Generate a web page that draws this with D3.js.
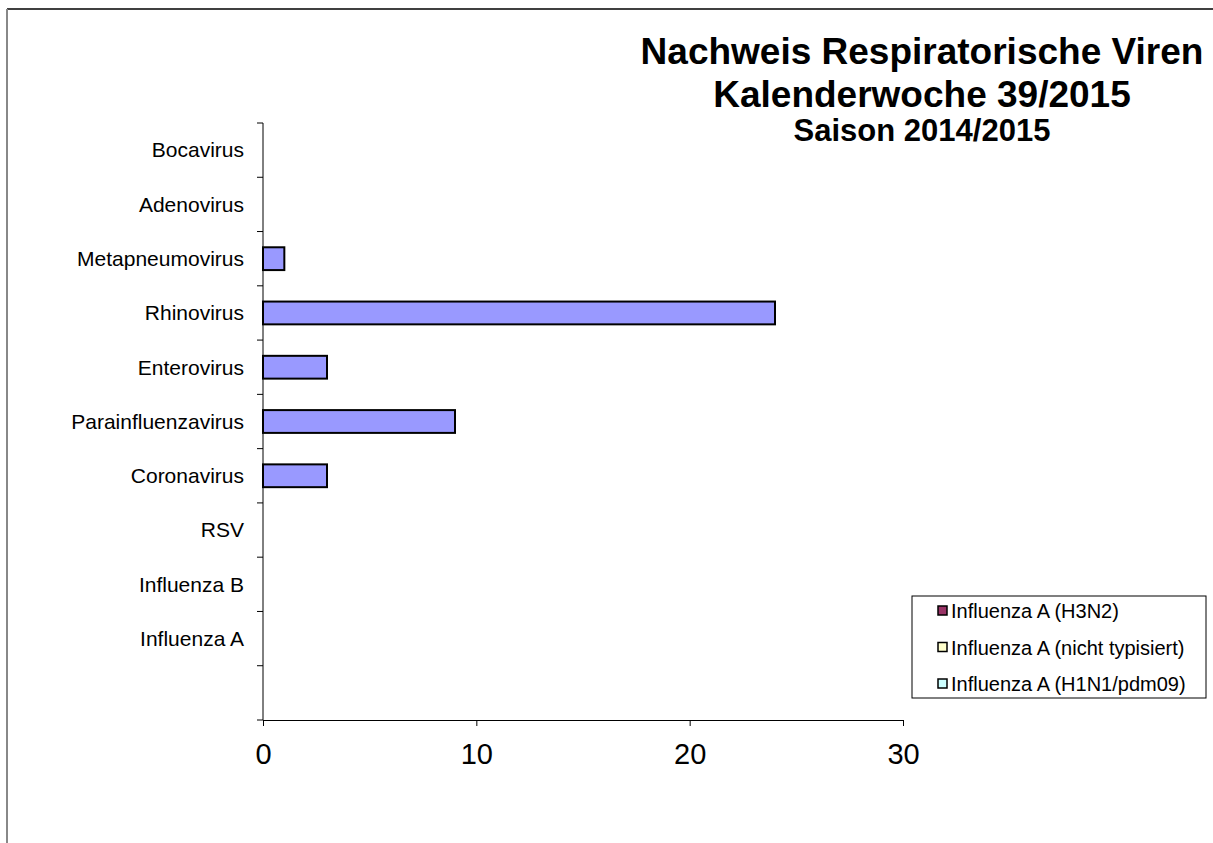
<!DOCTYPE html>
<html>
<head>
<meta charset="utf-8">
<script src="https://cdn.jsdelivr.net/npm/d3@7"></script>
<style>
  body { margin: 0; background: #fff; }
  svg { display: block; font-family: Arial, "Liberation Sans", sans-serif; }
</style>
</head>
<body>
<svg id="chart" width="1213" height="843"></svg>
<script>
// categories top to bottom, last one is the empty slot under Influenza A
const categories = ["Bocavirus", "Adenovirus", "Metapneumovirus", "Rhinovirus", "Enterovirus",
  "Parainfluenzavirus", "Coronavirus", "RSV", "Influenza B", "Influenza A", ""];
const counts = [0, 0, 1, 24, 3, 9, 3, 0, 0, 0, 0];
const xTicks = [0, 10, 20, 30];
const legendLabels = ["Influenza A (H3N2)", "Influenza A (nicht typisiert)", "Influenza A (H1N1/pdm09)"];
const legendColors = ["#993366", "#ffffcc", "#ccffff"];
const titleLines = ["Nachweis Respiratorische Viren", "Kalenderwoche 39/2015", "Saison 2014/2015"];

const svg = d3.select("#chart");

// outer frame of the chart area
svg.append("line").attr("x1", 7).attr("x2", 1213).attr("y1", 9).attr("y2", 9)
  .attr("stroke", "#000").attr("stroke-width", 1.5);
svg.append("line").attr("x1", 7).attr("x2", 7).attr("y1", 9).attr("y2", 843)
  .attr("stroke", "#888").attr("stroke-width", 2);

const x = d3.scaleLinear().domain([0, 30]).range([263, 903]);
const y = d3.scaleBand().domain(categories).range([123, 720]).paddingInner(0.58).paddingOuter(0.29);

// bars
svg.append("g").selectAll("rect")
  .data(categories.map((c, i) => ({ c, v: counts[i] })).filter(d => d.v > 0))
  .join("rect")
  .attr("x", x(0))
  .attr("y", d => y(d.c))
  .attr("width", d => x(d.v) - x(0))
  .attr("height", y.bandwidth())
  .attr("fill", "#9999ff")
  .attr("stroke", "#000")
  .attr("stroke-width", 2);

// y axis line + ticks at band boundaries
const yAxis = svg.append("g");
yAxis.append("line").attr("x1", 263).attr("x2", 263).attr("y1", 123).attr("y2", 720)
  .attr("stroke", "#000").attr("stroke-width", 1);
const step = (720 - 123) / categories.length;
yAxis.selectAll("line.t").data(d3.range(categories.length + 1)).join("line")
  .attr("class", "t")
  .attr("x1", 257).attr("x2", 263)
  .attr("y1", i => 123 + i * step).attr("y2", i => 123 + i * step)
  .attr("stroke", "#000");
yAxis.selectAll("text").data(categories).join("text")
  .attr("x", 244)
  .attr("y", d => y(d) + y.bandwidth() / 2)
  .attr("dy", "0.35em")
  .attr("text-anchor", "end")
  .attr("font-size", 21)
  .text(d => d);

// x axis
const xAxis = svg.append("g").attr("transform", "translate(0,720)")
  .call(d3.axisBottom(x).tickValues(xTicks).tickSize(6).tickSizeOuter(0));
xAxis.select(".domain").attr("stroke", "#000");
xAxis.selectAll("line").attr("stroke", "#000");
xAxis.selectAll("text").attr("font-size", 29).attr("fill", "#000")
  .attr("y", 44).attr("dy", 0)
  .style("font-family", "Arial, 'Liberation Sans', sans-serif");

// title
const title = svg.append("g").attr("text-anchor", "middle").attr("font-weight", "bold");
title.selectAll("text").data(titleLines).join("text")
  .attr("x", 922)
  .attr("y", (d, i) => [64, 107, 141][i])
  .attr("font-size", (d, i) => i < 2 ? 37 : 31)
  .text(d => d);

// legend
const lg = svg.append("g");
lg.append("rect").attr("x", 912).attr("y", 596).attr("width", 294).attr("height", 102)
  .attr("fill", "#fff").attr("stroke", "#000").attr("stroke-width", 1);
const items = lg.selectAll("g").data(legendLabels).join("g")
  .attr("transform", (d, i) => `translate(951,${611 + i * 36.5})`);
items.append("rect").attr("x", -13).attr("y", -5).attr("width", 9).attr("height", 9)
  .attr("fill", (d, i) => legendColors[i]).attr("stroke", "#000").attr("stroke-width", 1.5);
items.append("text").attr("x", 0).attr("dy", "0.35em").attr("font-size", 20).text(d => d);
</script>
</body>
</html>
